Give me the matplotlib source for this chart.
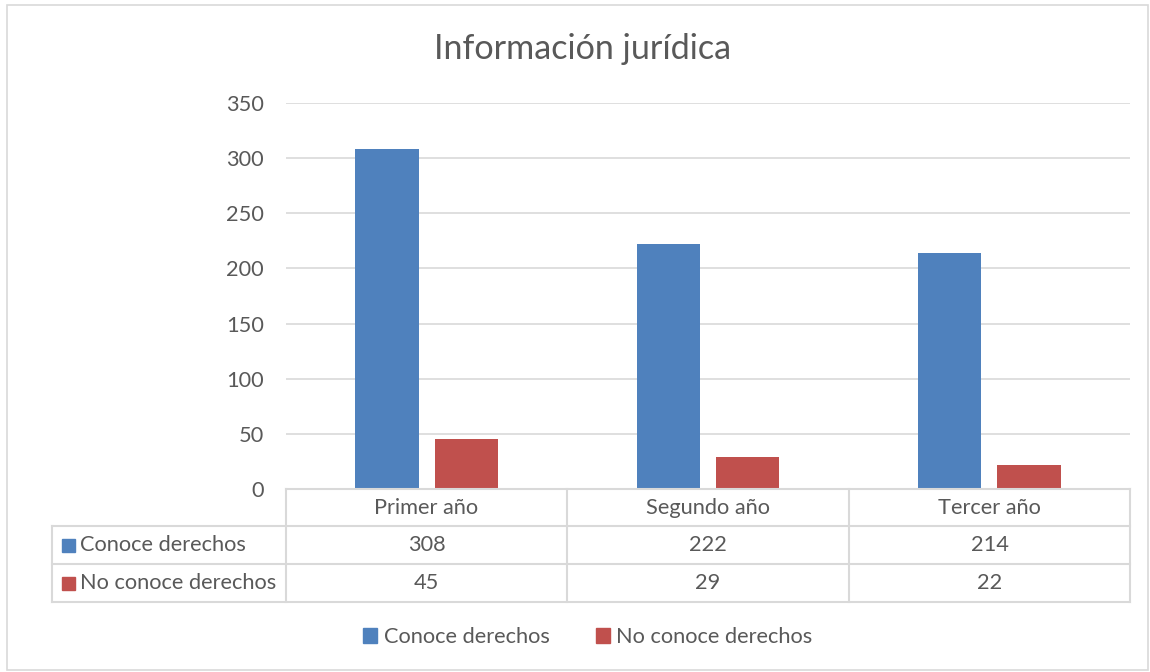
import matplotlib
matplotlib.use("Agg")
import matplotlib.pyplot as plt
from matplotlib.patches import Rectangle
from matplotlib.lines import Line2D

categories = ["Primer año", "Segundo año", "Tercer año"]
series_names = ["Conoce derechos", "No conoce derechos"]
conoce = [308, 222, 214]
no_conoce = [45, 29, 22]
colors = ["#4F81BD", "#C0504D"]
title = "Información jurídica"

W, H = 1150, 672
plt.rcParams['font.family'] = ['Lato', 'DejaVu Sans']
txt = "#595959"
grid = "#D9D9D9"
fs = 15.7

fig = plt.figure(figsize=(W/100, H/100), dpi=100)

def fx(px): return px / W
def fy(py): return 1 - py / H

# outer border
fig.patches.append(Rectangle((fx(7), fy(670)), fx(1148) - fx(7), fy(5) - fy(670),
                             transform=fig.transFigure, fill=False, edgecolor=grid, lw=1.2))

L, R, T, B = 286, 1130, 103, 489
ax = fig.add_axes([fx(L), fy(B), fx(R) - fx(L), fy(T) - fy(B)])
x = list(range(len(categories)))
off = 0.141
bw = 0.225
ax.bar([i - off for i in x], conoce, width=bw, color=colors[0], zorder=3)
ax.bar([i + off for i in x], no_conoce, width=bw, color=colors[1], zorder=3)
ax.set_xlim(-0.5, len(categories) - 0.5)
ax.set_ylim(0, 350)
ax.set_yticks(range(0, 351, 50))
ax.yaxis.grid(True, color=grid, lw=1.2, zorder=0)
ax.set_xticks([])
for s in ax.spines.values():
    s.set_visible(False)
ax.tick_params(axis='y', length=0, pad=16, labelsize=fs, labelcolor=txt)

fig.text(fx(583), fy(49), title, ha='center', va='center', fontsize=24.6, color=txt)

# data table
cols = [286, 567, 849, 1130]
rows = [489, 526, 564, 602]
left = 52
def hline(y, x0, x1):
    fig.lines.append(Line2D([fx(x0), fx(x1)], [fy(y), fy(y)], transform=fig.transFigure, color=grid, lw=1.5))
def vline(xp, y0, y1):
    fig.lines.append(Line2D([fx(xp), fx(xp)], [fy(y0), fy(y1)], transform=fig.transFigure, color=grid, lw=1.5))

hline(rows[0], cols[0], cols[-1])
for r in rows[1:]:
    hline(r, left, cols[-1])
for c in cols:
    vline(c, rows[0], rows[-1])
vline(left, rows[1], rows[-1])

for i, cat in enumerate(categories):
    cx = (cols[i] + cols[i + 1]) / 2
    fig.text(fx(cx), fy((rows[0] + rows[1]) / 2), cat, ha='center', va='center', fontsize=fs, color=txt)
    for j, vals in enumerate([conoce, no_conoce]):
        fig.text(fx(cx), fy((rows[j + 1] + rows[j + 2]) / 2), str(vals[i]), ha='center', va='center',
                 fontsize=fs, color=txt)

for j, name in enumerate(series_names):
    cy = (rows[j + 1] + rows[j + 2]) / 2
    fig.patches.append(Rectangle((fx(62), fy(cy + 6.5)), fx(13), fx(13) * W / H,
                                 transform=fig.transFigure, color=colors[j]))
    fig.text(fx(80), fy(cy), name, ha='left', va='center', fontsize=fs, color=txt)

# legend
handles = [Rectangle((0, 0), 1, 1, color=c) for c in colors]
fig.legend(handles, series_names, loc='center', bbox_to_anchor=(fx(588), fy(637)), ncol=2,
           frameon=False, fontsize=fs, labelcolor=txt, handlelength=0.65, handleheight=0.65,
           handletextpad=0.3, columnspacing=2.1)

fig.savefig("out.png", dpi=100)
